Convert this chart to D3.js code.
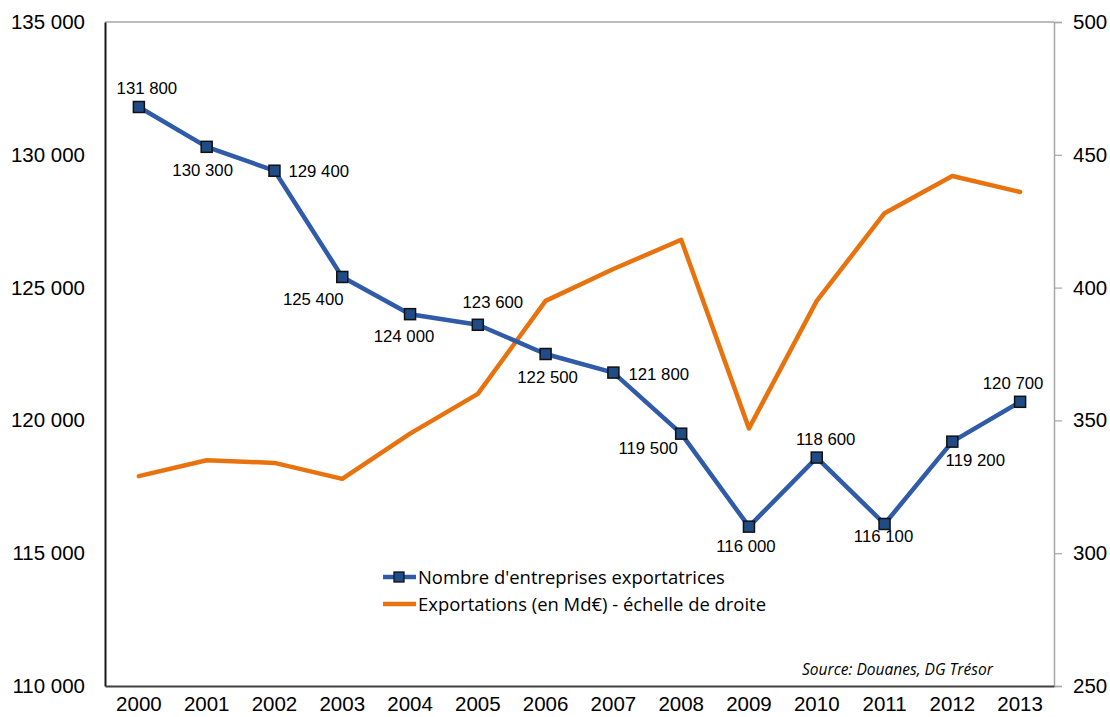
<!DOCTYPE html>
<html lang="fr">
<head>
<meta charset="utf-8">
<script src="https://cdn.jsdelivr.net/npm/d3@7"></script>
<style>
  html, body { margin: 0; padding: 0; background: #fff; }
  svg { display: block; }
</style>
</head>
<body>
<svg id="chart" width="1110" height="717"></svg>
<script>
// Années (catégories)
const years = ["2000","2001","2002","2003","2004","2005","2006","2007","2008","2009","2010","2011","2012","2013"];
// Nombre d'entreprises exportatrices (échelle de gauche)
const entreprises = [131800,130300,129400,125400,124000,123600,122500,121800,119500,116000,118600,116100,119200,120700];
// Exportations en Md€ (échelle de droite)
const exportations = [329,335,334,328,345,360,395,407,418,347,395,428,442,436];
// Graduations des axes
const leftTicks = [110000,115000,120000,125000,130000,135000];
const rightTicks = [250,300,350,400,450,500];

const seriesNames = ["Nombre d'entreprises exportatrices", "Exportations (en Md\u20ac) - \u00e9chelle de droite"];
const sourceText = "Source: Douanes, DG Tr\u00e9sor";

// Placement des étiquettes de valeur autour de chaque marqueur
const labelPlacement = [
  {dx: 8, dy: -13, a: "middle"}, {dx: -4, dy: 29, a: "middle"}, {dx: 14, dy: 6, a: "start"},
  {dx: -29, dy: 28, a: "middle"}, {dx: -6, dy: 28, a: "middle"}, {dx: 15, dy: -17, a: "middle"},
  {dx: 2, dy: 29, a: "middle"}, {dx: 15, dy: 7, a: "start"}, {dx: -33, dy: 20, a: "middle"},
  {dx: -3, dy: 25, a: "middle"}, {dx: 9, dy: -13, a: "middle"}, {dx: -1, dy: 18, a: "middle"},
  {dx: 23, dy: 24, a: "middle"}, {dx: -7, dy: -13, a: "middle"}
];

const plot = {left: 105, right: 1054, top: 22, bottom: 686};
const BLUE = "#2F5BA8", MARK = "#1F4C86", ORANGE = "#E8730E";
const numFont = "'Liberation Sans', Arial, sans-serif";
const textFont = "'Open Sans', 'Noto Sans', sans-serif";

const svg = d3.select("#chart");

const x = d3.scaleBand().domain(years).range([plot.left, plot.right]);
const cx = d => x(d) + x.bandwidth() / 2;
const yL = d3.scaleLinear().domain([110000, 135000]).range([plot.bottom, plot.top]);
const yR = d3.scaleLinear().domain([250, 500]).range([plot.bottom, plot.top]);

const fmt = v => d3.format(",")(v).replace(/,/g, " ");

// Bordure supérieure de la zone de tracé
svg.append("line")
  .attr("x1", plot.left).attr("x2", plot.right)
  .attr("y1", plot.top).attr("y2", plot.top)
  .attr("stroke", "#A6A6A6").attr("stroke-width", 1.5);

// Axe de droite (Md€)
const axR = svg.append("g").attr("transform", `translate(${plot.right},0)`)
  .call(d3.axisRight(yR).tickValues(rightTicks).tickSize(8).tickPadding(11).tickFormat(d3.format("d")));
axR.select(".domain").attr("stroke", "#A6A6A6").attr("stroke-width", 1.5);
axR.selectAll(".tick line").attr("stroke", "#A6A6A6").attr("stroke-width", 1.2);
axR.selectAll(".tick text").attr("font-family", numFont).attr("font-size", 20.5).attr("fill", "#000");

// Axe de gauche (nombre d'entreprises)
const axL = svg.append("g").attr("transform", `translate(${plot.left},0)`)
  .call(d3.axisLeft(yL).tickValues(leftTicks).tickSize(0).tickPadding(20).tickFormat(fmt));
axL.select(".domain").attr("stroke", "#1a1a1a").attr("stroke-width", 2);
axL.selectAll(".tick text").attr("font-family", numFont).attr("font-size", 20.5).attr("fill", "#000");

// Axe des abscisses
const axB = svg.append("g").attr("transform", `translate(0,${plot.bottom})`)
  .call(d3.axisBottom(x).tickSize(0).tickPadding(10));
axB.select(".domain").attr("stroke", "#404040").attr("stroke-width", 2);
axB.selectAll(".tick text").attr("font-family", numFont).attr("font-size", 20.5).attr("fill", "#000");

// Courbe des exportations
const lineR = d3.line().x((d, i) => cx(years[i])).y(d => yR(d));
svg.append("path").datum(exportations)
  .attr("d", lineR).attr("fill", "none")
  .attr("stroke", ORANGE).attr("stroke-width", 4.5)
  .attr("stroke-linejoin", "round").attr("stroke-linecap", "round");

// Courbe du nombre d'entreprises
const lineL = d3.line().x((d, i) => cx(years[i])).y(d => yL(d));
svg.append("path").datum(entreprises)
  .attr("d", lineL).attr("fill", "none")
  .attr("stroke", BLUE).attr("stroke-width", 4.5)
  .attr("stroke-linejoin", "round").attr("stroke-linecap", "round");

// Marqueurs carrés
const ms = 11;
svg.append("g").selectAll("rect").data(entreprises).join("rect")
  .attr("x", (d, i) => cx(years[i]) - ms / 2)
  .attr("y", d => yL(d) - ms / 2)
  .attr("width", ms).attr("height", ms)
  .attr("fill", MARK).attr("stroke", "#111").attr("stroke-width", 1.5);

// Étiquettes de valeur
svg.append("g").selectAll("text").data(entreprises).join("text")
  .attr("x", (d, i) => cx(years[i]) + labelPlacement[i].dx)
  .attr("y", (d, i) => yL(d) + labelPlacement[i].dy)
  .attr("text-anchor", (d, i) => labelPlacement[i].a)
  .attr("font-family", numFont).attr("font-size", 16.8).attr("fill", "#000")
  .text(d => fmt(d));

// Ajuste la taille de police d'un texte à une largeur donnée
function fitWidth(sel, target) {
  const node = sel.node();
  const w = node.getComputedTextLength();
  const fs = parseFloat(sel.attr("font-size"));
  sel.attr("font-size", (fs * target / w).toFixed(2));
}

// Légende
const legend = svg.append("g");
const rows = [
  {name: seriesNames[0], color: BLUE, marker: true, y: 577},
  {name: seriesNames[1], color: ORANGE, marker: false, y: 604}
];
rows.forEach(r => {
  legend.append("line")
    .attr("x1", 383).attr("x2", 416).attr("y1", r.y).attr("y2", r.y)
    .attr("stroke", r.color).attr("stroke-width", 4.5);
  if (r.marker) {
    legend.append("rect")
      .attr("x", 399 - 5).attr("y", r.y - 5).attr("width", 10).attr("height", 10)
      .attr("fill", MARK).attr("stroke", "#111").attr("stroke-width", 1.3);
  }
  const t = legend.append("text")
    .attr("x", 418).attr("y", r.y + 6.5)
    .attr("font-family", textFont).attr("font-size", 18).attr("fill", "#000")
    .text(r.name);
  if (r.marker) fitWidth(t, 307);
  else t.attr("font-size", legend.select("text").attr("font-size"));
});

// Source
const src = svg.append("text")
  .attr("x", 802).attr("y", 675)
  .attr("font-family", textFont).attr("font-style", "italic")
  .attr("font-size", 14).attr("fill", "#000")
  .text(sourceText);
fitWidth(src, 191);
</script>
</body>
</html>
